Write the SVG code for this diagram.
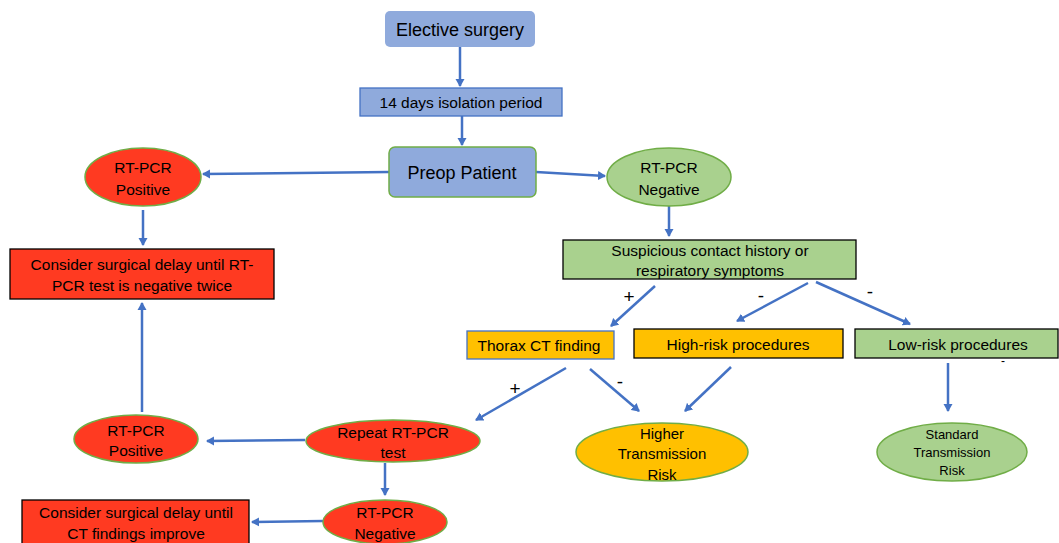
<svg xmlns="http://www.w3.org/2000/svg" width="1059" height="543" viewBox="0 0 1059 543">
<defs>
<marker id="ah" markerWidth="10" markerHeight="10" refX="7" refY="5" orient="auto" markerUnits="userSpaceOnUse">
<path d="M0,0.5 L8,5 L0,9.5 Z" fill="#4472c4"/>
</marker>
<style>
text{font-family:"Liberation Sans",Arial,sans-serif;fill:#000;text-anchor:middle}
.blue{fill:#8faadc}
.red{fill:#ff3a21}
.green{fill:#a9d18e}
.orange{fill:#ffc000}
.gs{stroke:#70ad47;stroke-width:1.5}
.bk{stroke:#000;stroke-width:1.3}
.bs{stroke:#4472c4;stroke-width:1.3}
.conn line{stroke:#4472c4;stroke-width:2.5;marker-end:url(#ah)}
.lbl{font-size:19px}
.t{font-size:15.5px}
</style>
</defs>
<rect width="1059" height="543" fill="#fff"/>
<text x="1003" y="365" font-size="12">-</text>
<g class="conn" id="connectors">
<line x1="460" y1="47" x2="460" y2="86"/>
<line x1="462" y1="116" x2="462" y2="145"/>
<line x1="389" y1="172" x2="203" y2="174"/>
<line x1="536" y1="172" x2="605" y2="176"/>
<line x1="143" y1="210" x2="143" y2="245"/>
<line x1="142" y1="412" x2="142" y2="303"/>
<line x1="669" y1="203" x2="669" y2="236"/>
<line x1="655" y1="286" x2="611" y2="326"/>
<line x1="808" y1="283" x2="737" y2="321"/>
<line x1="816" y1="282" x2="910" y2="324"/>
<line x1="566" y1="368" x2="476" y2="420"/>
<line x1="590" y1="369" x2="639" y2="411"/>
<line x1="731" y1="367" x2="685" y2="411"/>
<line x1="948" y1="363" x2="948" y2="411"/>
<line x1="305" y1="440" x2="207" y2="441"/>
<line x1="385" y1="463" x2="385" y2="495"/>
<line x1="323" y1="521" x2="252" y2="522"/>
</g>
<g id="edge-labels">
<text x="629" y="303" class="lbl">+</text>
<text x="761" y="302" class="lbl">-</text>
<text x="870" y="298" class="lbl">-</text>
<text x="515" y="395" class="lbl">+</text>
<text x="620" y="388" class="lbl">-</text>
</g>
<g id="elective">
<rect x="385" y="11" width="150" height="36" rx="5" class="blue"/>
<text x="460" y="36" font-size="18">Elective surgery</text>
</g>
<g id="isolation">
<rect x="360" y="88" width="202" height="28" class="blue bs"/>
<text x="461" y="108" class="t">14 days isolation period</text>
</g>
<g id="preop">
<rect x="389" y="147" width="147" height="50" rx="6" class="blue gs"/>
<text x="462" y="179" font-size="18">Preop Patient</text>
</g>
<g id="pcr-pos-top">
<ellipse cx="143" cy="177" rx="58" ry="29" class="red gs"/>
<text x="143" y="173" class="t">RT-PCR</text>
<text x="143" y="195" class="t">Positive</text>
</g>
<g id="delay-twice">
<rect x="10" y="249" width="264" height="50" class="red bk"/>
<text x="142" y="270" class="t">Consider surgical delay until RT-</text>
<text x="142" y="291" class="t">PCR test is negative twice</text>
</g>
<g id="pcr-neg-top">
<ellipse cx="669" cy="177" rx="62" ry="29" class="green gs"/>
<text x="669" y="173" class="t">RT-PCR</text>
<text x="669" y="195" class="t">Negative</text>
</g>
<g id="suspicious">
<rect x="563" y="240" width="293" height="39" class="green bk"/>
<text x="710" y="256" class="t">Suspicious contact history or</text>
<text x="710" y="276" class="t">respiratory symptoms</text>
</g>
<g id="thorax">
<rect x="467" y="331" width="147" height="28" class="orange bs"/>
<text x="539" y="351" class="t">Thorax CT finding</text>
</g>
<g id="high-risk">
<rect x="634" y="329" width="209" height="29" class="orange bk"/>
<text x="738" y="350" class="t">High-risk procedures</text>
</g>
<g id="low-risk">
<rect x="855" y="329" width="203" height="29" class="green bk"/>
<text x="958" y="350" class="t">Low-risk procedures</text>
</g>
<g id="higher-risk">
<ellipse cx="662" cy="452" rx="86" ry="29" class="orange gs"/>
<text x="662" y="439" font-size="15">Higher</text>
<text x="662" y="459" font-size="15">Transmission</text>
<text x="662" y="480" font-size="15">Risk</text>
</g>
<g id="standard-risk">
<ellipse cx="952" cy="452" rx="75" ry="29" class="green gs"/>
<text x="952" y="439" font-size="13">Standard</text>
<text x="952" y="457" font-size="13">Transmission</text>
<text x="952" y="475" font-size="13">Risk</text>
</g>
<g id="repeat">
<ellipse cx="393" cy="441" rx="87" ry="21" class="red gs"/>
<text x="393" y="438" class="t">Repeat RT-PCR</text>
<text x="393" y="458" class="t">test</text>
</g>
<g id="pcr-pos-bottom">
<ellipse cx="136" cy="439" rx="62" ry="24" class="red gs"/>
<text x="136" y="436" class="t">RT-PCR</text>
<text x="136" y="456" class="t">Positive</text>
</g>
<g id="pcr-neg-bottom">
<ellipse cx="385" cy="522" rx="62" ry="22" class="red gs"/>
<text x="385" y="518" class="t">RT-PCR</text>
<text x="385" y="539" class="t">Negative</text>
</g>
<g id="delay-ct">
<rect x="22" y="500" width="227" height="50" class="red bk"/>
<text x="136" y="518" class="t">Consider surgical delay until</text>
<text x="136" y="539" class="t">CT findings improve</text>
</g>
</svg>
